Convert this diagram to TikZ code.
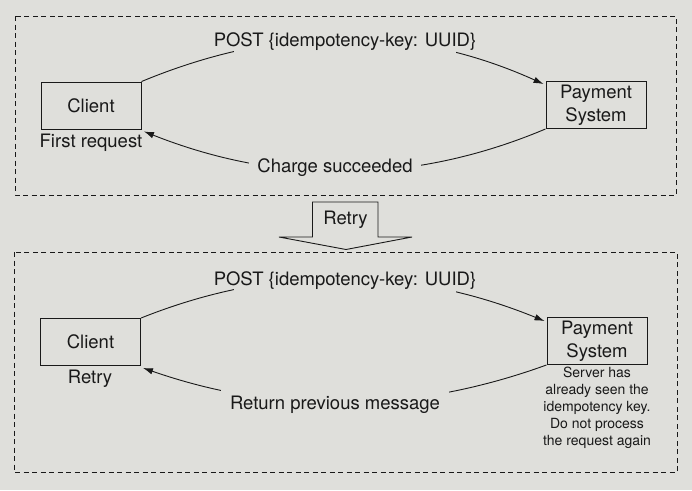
\documentclass[tikz,border=0pt]{standalone}
\usepackage{fontspec}
\setmainfont{TeX Gyre Heros}
\usetikzlibrary{arrows.meta,calc}
\definecolor{bg}{RGB}{223,223,219}
\definecolor{ink}{RGB}{25,25,25}
\begin{document}
\begin{tikzpicture}[x=1pt,y=-1pt,
  every node/.style={text=ink,font=\fontsize{18.5}{22}\selectfont},
  box/.style={draw=ink,line width=0.9pt,minimum width=100pt,minimum height=47pt,inner sep=0pt,align=center,font=\fontsize{18.5}{23}\selectfont},
  frame/.style={draw=ink,line width=0.8pt,dash pattern=on 5pt off 3.5pt},
  conn/.style={draw=ink,line width=0.9pt,-{Latex[length=10pt,width=6.5pt]}},
  lbl/.style={fill=bg},
  note/.style={font=\fontsize{14}{17}\selectfont,align=center},
  hollow/.style={draw=ink,line width=0.9pt,fill=bg,line join=miter}]
\fill[bg] (0,0) rectangle (692,490);
\useasboundingbox (0,0) rectangle (692,490);
% frames
\draw[frame] (15,16) rectangle (676,195);
\draw[frame] (14,252) rectangle (677,472);
% top panel
\node[box] (client1) at (91,105.5) {Client};
\node[box] (pay1) at (596,105) {Payment\\System};
\node (first) at (91,143) {First request};
\draw[conn] (client1.north east) .. controls ($(client1.north east)+(135,-56)$) and ($(pay1.north west)+(-137,-58)$) .. ($(pay1.north west)+(-2,3)$);
\draw[conn] (pay1.south west) .. controls ($(pay1.south west)+(-134,56.5)$) and ($(client1.south east)+(136,55)$) .. ($(client1.south east)+(2.5,2)$);
\node[lbl,inner xsep=-20pt,inner ysep=9pt] (post1) at (345,42) {POST \{idempotency-key: UUID\}};
\node[lbl,inner xsep=8.5pt,inner ysep=3pt] (charge) at (335,168) {Charge succeeded};
% retry arrow
\draw[hollow] (312.5,202) -- (378,202) -- (378,237) -- (412,237) -- (346,249.5) -- (279,237) -- (312.5,237) -- cycle;
\node (retry) at (345.5,220) {Retry};
% bottom panel
\node[box] (client2) at (90.5,342) {Client};
\node[box] (pay2) at (597,341) {Payment\\System};
\node (retrylbl) at (90,379) {Retry};
\draw[conn] (client2.north east) .. controls ($(client2.north east)+(135,-54)$) and ($(pay2.north west)+(-137,-51)$) .. ($(pay2.north west)+(-2,4)$);
\draw[conn] (pay2.south west) .. controls ($(pay2.south west)+(-135,49)$) and ($(client2.south east)+(137,49)$) .. ($(client2.south east)+(2,2)$);
\node[lbl,inner xsep=-20pt,inner ysep=6pt] (post2) at (345,281) {POST \{idempotency-key: UUID\}};
\node[lbl,inner xsep=9pt,inner ysep=7pt] (ret) at (335,405) {Return previous message};
\node[note] (server) at (597,408) {Server has\\already seen the\\idempotency key.\\Do not process\\the request again};
\end{tikzpicture}
\end{document}
